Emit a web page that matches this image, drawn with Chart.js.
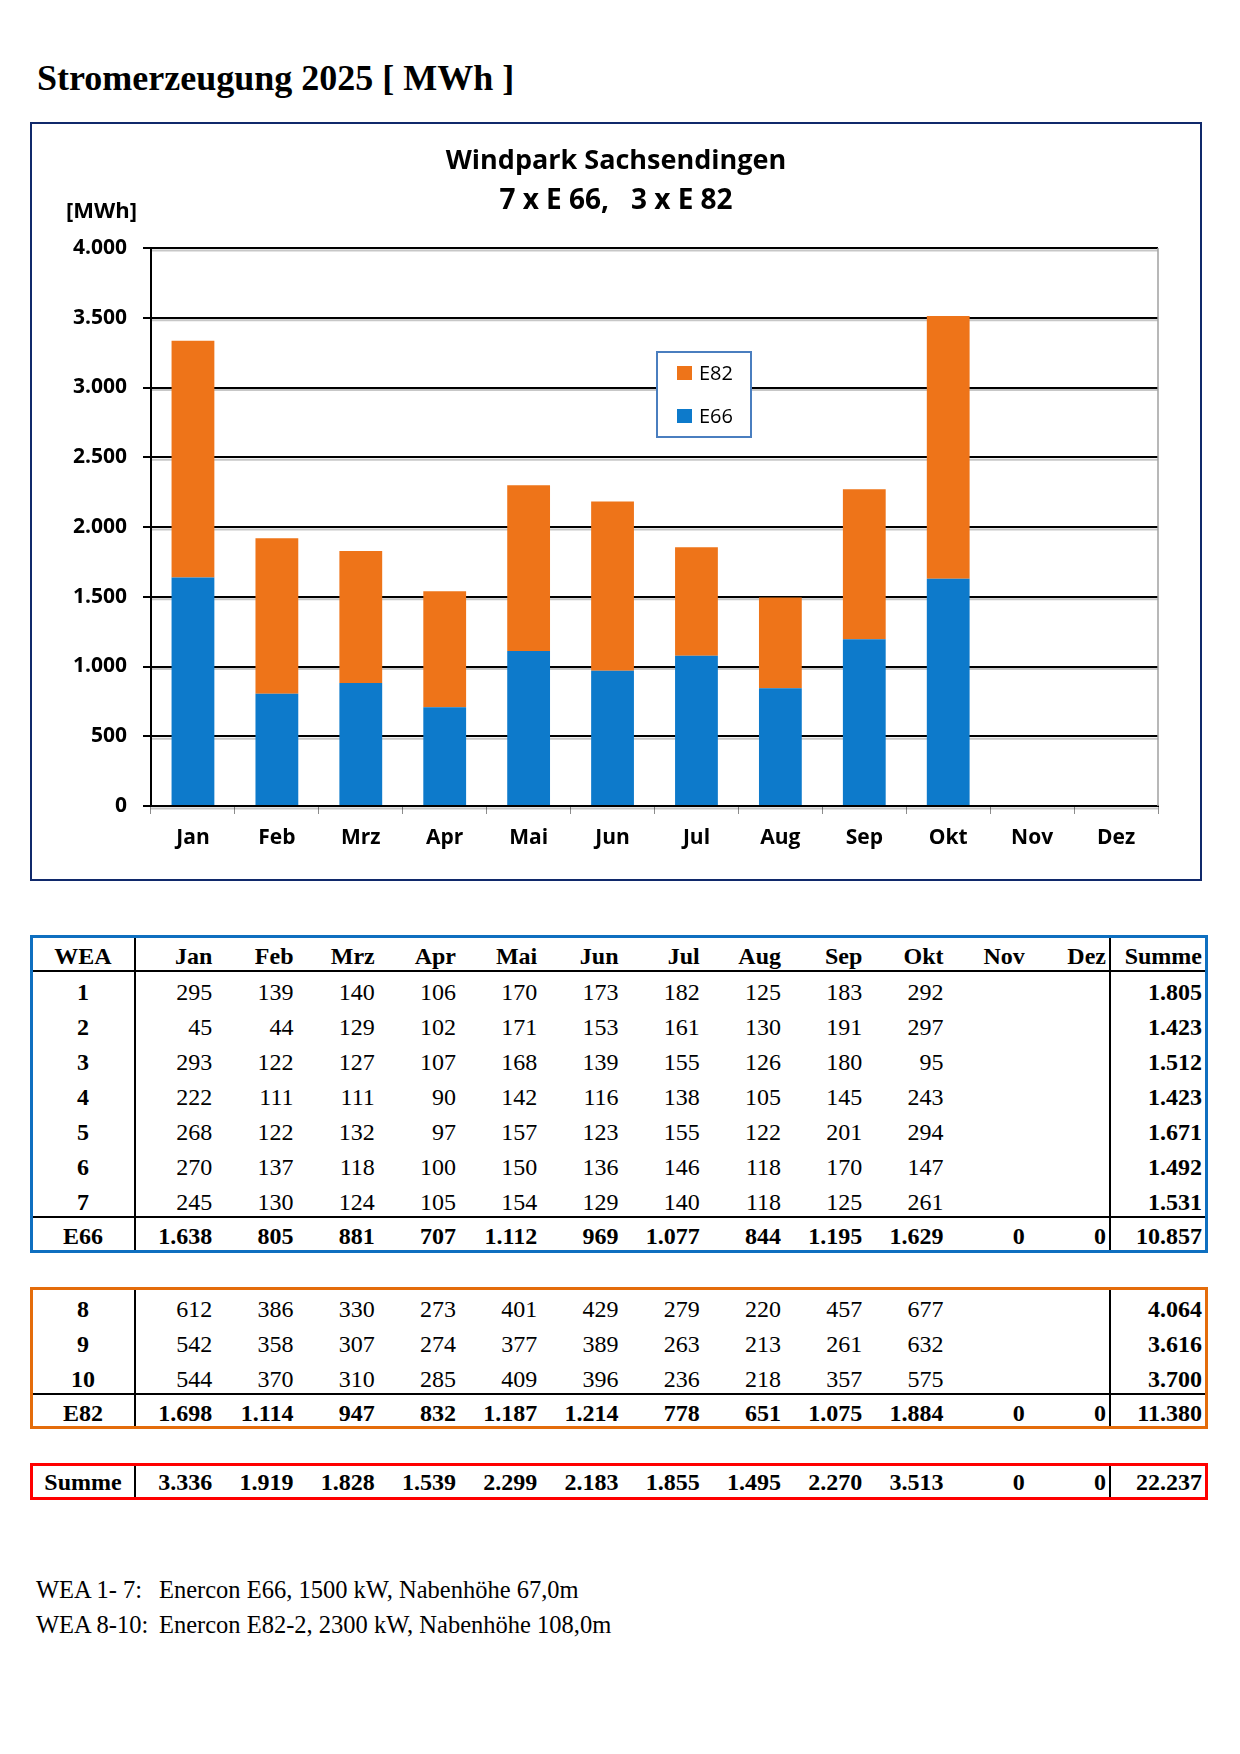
<!DOCTYPE html>
<html>
<head>
<meta charset="utf-8">
<script src="https://cdn.jsdelivr.net/npm/chart.js"></script>
<style>
body { margin: 0; background: #fff; }
#page { position: relative; width: 1240px; height: 1754px; overflow: hidden; }
.t { position: absolute; white-space: pre; color: #000; }
.serif { font-family: "Liberation Serif", "Times New Roman", serif; }
.sans { font-family: "Open Sans", sans-serif; }
.cell { position: absolute; height: 24px; line-height: 24px; font-size: 24px; white-space: pre; font-family: "Liberation Serif", serif; }
.line { position: absolute; background: #000; }
</style>
</head>
<body>
<div id="page">
  <div class="t serif" style="left:37px; top:60px; font-size:36px; line-height:36px; font-weight:bold;">Stromerzeugung 2025 [ MWh ]</div>

  <div style="position:absolute; left:30px; top:122px; width:1172px; height:759px; box-sizing:border-box; border:2px solid #10296b;">
    <canvas id="canvas" width="1168" height="755"></canvas>
  </div>
  <div class="t sans" style="left:316px; width:600px; text-align:center; top:145px; font-size:27px; line-height:27px; font-weight:bold;">Windpark Sachsendingen</div>
  <div class="t sans" style="left:316px; width:600px; text-align:center; top:184px; font-size:28px; line-height:28px; font-weight:bold;">7 x E 66,   3 x E 82</div>
  <div class="t sans" style="left:66px; top:198px; font-size:22px; line-height:22px; font-weight:bold;">[MWh]</div>

  <div id="tables"></div>

  <div class="t serif" style="left:36px; top:1578px; font-size:24.5px; line-height:24px;">WEA 1- 7:</div>
  <div class="t serif" style="left:159px; top:1578px; font-size:24.5px; line-height:24px;">Enercon E66, 1500 kW, Nabenhöhe 67,0m</div>
  <div class="t serif" style="left:36px; top:1613px; font-size:24.5px; line-height:24px;">WEA 8-10:</div>
  <div class="t serif" style="left:159px; top:1613px; font-size:24.5px; line-height:24px;">Enercon E82-2, 2300 kW, Nabenhöhe 108,0m</div>
</div>

<script>
var months = ["Jan", "Feb", "Mrz", "Apr", "Mai", "Jun", "Jul", "Aug", "Sep", "Okt", "Nov", "Dez"];

// monthly totals per turbine type [MWh]
var e66 = [1638, 805, 881, 707, 1112, 969, 1077, 844, 1195, 1629, 0, 0];
var e82 = [1698, 1114, 947, 832, 1187, 1214, 778, 651, 1075, 1884, 0, 0];
var summe = [3336, 1919, 1828, 1539, 2299, 2183, 1855, 1495, 2270, 3513, 0, 0];

// per turbine, Jan..Okt
var wea1 = [295, 139, 140, 106, 170, 173, 182, 125, 183, 292];
var wea2 = [45, 44, 129, 102, 171, 153, 161, 130, 191, 297];
var wea3 = [293, 122, 127, 107, 168, 139, 155, 126, 180, 95];
var wea4 = [222, 111, 111, 90, 142, 116, 138, 105, 145, 243];
var wea5 = [268, 122, 132, 97, 157, 123, 155, 122, 201, 294];
var wea6 = [270, 137, 118, 100, 150, 136, 146, 118, 170, 147];
var wea7 = [245, 130, 124, 105, 154, 129, 140, 118, 125, 261];
var wea8 = [612, 386, 330, 273, 401, 429, 279, 220, 457, 677];
var wea9 = [542, 358, 307, 274, 377, 389, 263, 213, 261, 632];
var wea10 = [544, 370, 310, 285, 409, 396, 236, 218, 357, 575];
var weaSumme = [1805, 1423, 1512, 1423, 1671, 1492, 1531, 4064, 3616, 3700];
var e66Summe = 10857;
var e82Summe = 11380;
var gesamt = 22237;

var yMax = 4000;
var yStep = 500;

function fmt(n) {
  return String(n).replace(/\B(?=(\d{3})+(?!\d))/g, '.');
}

// ---------- chart ----------
var extras = {
  id: 'extras',
  beforeDatasetsDraw: function(chart) {
    var c = chart.ctx, a = chart.chartArea, y = chart.scales.y;
    c.save();
    c.strokeStyle = 'rgba(0,0,0,0.22)';
    c.lineWidth = 2;
    y.ticks.forEach(function(t) {
      var py = y.getPixelForValue(t.value) + 2.5;
      c.beginPath(); c.moveTo(a.left, py); c.lineTo(a.right, py); c.stroke();
    });
    c.strokeStyle = '#a0a0a0';
    c.lineWidth = 1.5;
    c.beginPath(); c.moveTo(a.right, a.top); c.lineTo(a.right, a.bottom); c.stroke();
    c.restore();
  },
  afterDatasetsDraw: function(chart) {
    var c = chart.ctx;
    var items = chart.data.datasets.slice().reverse();
    c.save();
    c.fillStyle = '#fff';
    c.fillRect(625, 228, 94, 85);
    c.strokeStyle = '#4a7ebf';
    c.lineWidth = 2;
    c.strokeRect(625, 228, 94, 85);
    c.font = '20px "Open Sans"';
    c.textBaseline = 'middle';
    items.forEach(function(ds, i) {
      var cy = 249 + i * 43;
      c.fillStyle = ds.backgroundColor;
      c.fillRect(645, cy - 7, 15, 14);
      c.fillStyle = '#000';
      c.fillText(ds.label, 667, cy + 1);
    });
    c.restore();
  }
};

var tickFont = { family: 'Open Sans', weight: 'bold', size: 21 };

var ctx = document.getElementById('canvas');
var myChart = new Chart(ctx, {
  type: 'bar',
  data: {
    labels: months,
    datasets: [
      { label: 'E66', data: e66, backgroundColor: '#0d7acb', borderWidth: 0 },
      { label: 'E82', data: e82, backgroundColor: '#ee7419', borderWidth: 0 }
    ]
  },
  options: {
    responsive: false,
    animation: false,
    layout: { padding: { top: 124, right: 42, bottom: 0, left: 0 } },
    datasets: { bar: { categoryPercentage: 1, barPercentage: 0.51 } },
    plugins: {
      legend: { display: false },
      title: { display: false },
      tooltip: { enabled: false }
    },
    scales: {
      x: {
        stacked: true,
        grid: { drawOnChartArea: false, color: '#8c8c8c', tickLength: 8, lineWidth: 1 },
        border: { color: '#000', width: 2 },
        ticks: { color: '#000', font: tickFont, padding: 11 },
        afterFit: function(s) { s.height = 73; }
      },
      y: {
        stacked: true,
        min: 0,
        max: yMax,
        ticks: { stepSize: yStep, color: '#000', font: tickFont, padding: 16, callback: function(v) { return fmt(v); } },
        grid: { color: '#000', lineWidth: 2, tickLength: 8 },
        border: { color: '#000', width: 2 },
        afterFit: function(s) { s.width = 119; }
      }
    }
  },
  plugins: [extras]
});

// ---------- tables ----------
var holder = document.getElementById('tables');

function colRight(i) { return 135 + 81.25 * (i + 1) - 4; }

function text(x, cy, txt, bold, align) {
  var d = document.createElement('div');
  d.className = 'cell';
  d.textContent = txt;
  d.style.top = (cy - 12) + 'px';
  d.style.fontWeight = bold ? 'bold' : 'normal';
  if (align === 'center') {
    d.style.left = (x - 100) + 'px'; d.style.width = '200px'; d.style.textAlign = 'center';
  } else {
    d.style.left = (x - 200) + 'px'; d.style.width = '200px'; d.style.textAlign = 'right';
  }
  holder.appendChild(d);
}

function line(x, y, w, h, color) {
  var d = document.createElement('div');
  d.className = 'line';
  d.style.left = x + 'px'; d.style.top = y + 'px';
  d.style.width = w + 'px'; d.style.height = h + 'px';
  if (color) d.style.background = color;
  holder.appendChild(d);
}

function box(top, bottom, color) {
  var d = document.createElement('div');
  d.style.position = 'absolute';
  d.style.left = '30px'; d.style.top = top + 'px';
  d.style.width = '1178px'; d.style.height = (bottom - top) + 'px';
  d.style.boxSizing = 'border-box';
  d.style.border = '3px solid ' + color;
  holder.appendChild(d);
  line(134, top + 3, 2, bottom - top - 6);
  line(1109, top + 3, 2, bottom - top - 6);
}

function dataRow(name, vals, sum, cy) {
  text(83, cy, name, true, 'center');
  vals.forEach(function(v, i) { text(colRight(i), cy, fmt(v), false); });
  text(1202, cy, fmt(sum), true);
}

function sumRow(name, vals, sum, cy) {
  text(83, cy, name, true, 'center');
  vals.forEach(function(v, i) { text(colRight(i), cy, fmt(v), true); });
  text(1202, cy, fmt(sum), true);
}

// E66 block
box(935, 1253, '#0e6fc0');
line(33, 970, 1172, 2);
line(33, 1216, 1172, 2);
text(83, 956, 'WEA', true, 'center');
months.forEach(function(m, i) { text(colRight(i), 956, m, true); });
text(1202, 956, 'Summe', true);
var e66Rows = [wea1, wea2, wea3, wea4, wea5, wea6, wea7];
e66Rows.forEach(function(r, k) { dataRow(String(k + 1), r, weaSumme[k], 991.5 + 35 * k); });
sumRow('E66', e66, e66Summe, 1236);

// E82 block
box(1287, 1429, '#e46c0a');
line(33, 1393, 1172, 2);
var e82Rows = [wea8, wea9, wea10];
e82Rows.forEach(function(r, k) { dataRow(String(k + 8), r, weaSumme[k + 7], 1309 + 35 * k); });
sumRow('E82', e82, e82Summe, 1413);

// total
box(1463, 1500, '#ff0000');
sumRow('Summe', summe, gesamt, 1482);
</script>
</body>
</html>
